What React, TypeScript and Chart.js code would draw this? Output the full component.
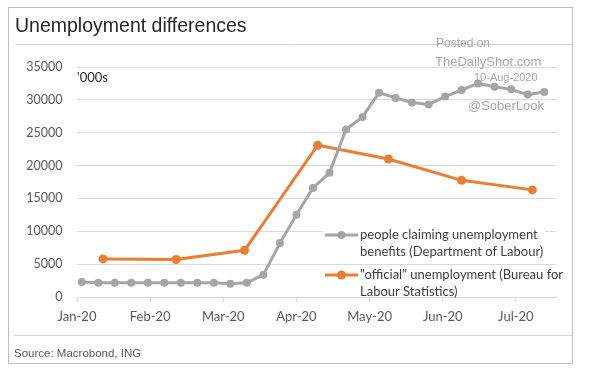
import { useEffect, useRef } from "react";
import { Chart, registerables } from "chart.js";

Chart.register(...registerables);

const TITLE = "Unemployment differences";
const SOURCE = "Source: Macrobond, ING";
const UNIT_LABEL = "'000s";
const WATERMARK = ["Posted on", "TheDailyShot.com", "10-Aug-2020", "@SoberLook"];

const X_TICK_LABELS = ["Jan-20", "Feb-20", "Mar-20", "Apr-20", "May-20", "Jun-20", "Jul-20"];
const X_TICK_STEP_DAYS = 31;
const X_MAX_DAYS = 203;
const Y_MIN = 0;
const Y_MAX = 35000;
const Y_STEP = 5000;

const claimsLabel = ["people claiming unemployment", "benefits (Department of Labour)"];
const claimsDates = [
  "2020-01-03", "2020-01-10", "2020-01-17", "2020-01-24", "2020-01-31",
  "2020-02-07", "2020-02-14", "2020-02-21", "2020-02-28",
  "2020-03-06", "2020-03-13", "2020-03-20", "2020-03-27",
  "2020-04-03", "2020-04-10", "2020-04-17", "2020-04-24",
  "2020-05-01", "2020-05-08", "2020-05-15", "2020-05-22", "2020-05-29",
  "2020-06-05", "2020-06-12", "2020-06-19", "2020-06-26",
  "2020-07-03", "2020-07-10", "2020-07-17",
];
const claimsValues = [
  2300, 2150, 2150, 2150, 2150,
  2150, 2150, 2150, 2150,
  2000, 2150, 3400, 8200,
  12500, 16600, 18900, 25500,
  27400, 31100, 30300, 29600, 29300,
  30500, 31500, 32500, 32000,
  31600, 30800, 31200,
];

const officialLabel = ['"official" unemployment (Bureau for', "Labour Statistics)"];
const officialDates = [
  "2020-01-12", "2020-02-12", "2020-03-12", "2020-04-12", "2020-05-12", "2020-06-12", "2020-07-12",
];
const officialValues = [5800, 5700, 7100, 23100, 21000, 17750, 16300];

const GREY = "#a5a5a5";
const ORANGE = "#ed7d31";
const GRID = "#d9d9d9";
const AXIS_TEXT = "#595959";
const LABEL_FONT = "Lato";
const HEAD_FONT = "'Liberation Sans', Arial, sans-serif";

const dayOf = (s: string) => {
  const [y, m, d] = s.split("-").map(Number);
  return (Date.UTC(y, m - 1, d) - Date.UTC(2020, 0, 1)) / 86400000;
};

const toPoints = (dates: string[], values: number[]) =>
  dates.map((d, i) => ({ x: dayOf(d), y: values[i] }));

const decorPlugin = {
  id: "decor",
  beforeDraw(chart: any) {
    const ctx = chart.ctx as CanvasRenderingContext2D;
    const W = chart.width;
    const H = chart.height;
    ctx.save();
    ctx.fillStyle = "#ffffff";
    ctx.fillRect(0, 0, W, H);
    ctx.strokeStyle = "#bfbfbf";
    ctx.lineWidth = 1;
    ctx.strokeRect(8.5, 7.5, 564, 356);
    ctx.strokeStyle = "#d4d4d4";
    ctx.beginPath();
    ctx.moveTo(15, 44.5);
    ctx.lineTo(572, 44.5);
    ctx.moveTo(14, 335.5);
    ctx.lineTo(572, 335.5);
    ctx.stroke();
    ctx.fillStyle = "#262626";
    ctx.font = `19.5px ${HEAD_FONT}`;
    ctx.textBaseline = "alphabetic";
    ctx.textAlign = "left";
    ctx.fillText(TITLE, 15, 32);
    ctx.fillStyle = "#595959";
    ctx.font = `11.5px ${HEAD_FONT}`;
    ctx.fillText(SOURCE, 14, 357);
    ctx.restore();
  },
  afterDatasetsDraw(chart: any) {
    const ctx = chart.ctx as CanvasRenderingContext2D;
    ctx.save();
    const entries = [
      { color: GREY, lines: claimsLabel, y: 235, box: [323, 225, 222, 34], r: 4 },
      { color: ORANGE, lines: officialLabel, y: 275, box: [323, 266, 249, 30.5], r: 4.5 },
    ];
    for (const e of entries) {
      ctx.fillStyle = "#ffffff";
      ctx.fillRect(e.box[0], e.box[1], e.box[2], e.box[3]);
      ctx.strokeStyle = e.color;
      ctx.lineWidth = 3;
      ctx.beginPath();
      ctx.moveTo(325, e.y);
      ctx.lineTo(358, e.y);
      ctx.stroke();
      ctx.fillStyle = e.color;
      ctx.beginPath();
      ctx.arc(341.5, e.y, e.r, 0, Math.PI * 2);
      ctx.fill();
      ctx.fillStyle = "#404040";
      ctx.font = `13px ${LABEL_FONT}`;
      ctx.textBaseline = "middle";
      ctx.textAlign = "left";
      e.lines.forEach((t, i) => ctx.fillText(t, 360, e.y + i * 16.5));
    }
    ctx.restore();
  },
  afterDraw(chart: any) {
    const ctx = chart.ctx as CanvasRenderingContext2D;
    const area = chart.chartArea;
    ctx.save();
    ctx.fillStyle = "#262626";
    ctx.font = `13px ${LABEL_FONT}`;
    ctx.textBaseline = "middle";
    ctx.textAlign = "left";
    ctx.fillText(UNIT_LABEL, area.left, 77.5);
    ctx.fillStyle = "rgba(150,150,150,0.85)";
    ctx.textBaseline = "alphabetic";
    ctx.font = `12px ${HEAD_FONT}`;
    ctx.fillText(WATERMARK[0], 436, 47);
    ctx.font = `13px ${HEAD_FONT}`;
    ctx.fillText(WATERMARK[1], 435, 65.5);
    ctx.font = `11px ${HEAD_FONT}`;
    ctx.fillText(WATERMARK[2], 474, 81);
    ctx.font = `13px ${HEAD_FONT}`;
    ctx.fillText(WATERMARK[3], 468, 109.5);
    ctx.restore();
  },
};

export default function App() {
  const ref = useRef<HTMLCanvasElement>(null);
  useEffect(() => {
    const canvas = ref.current;
    if (!canvas) return;
    const chart = new Chart(canvas, {
      type: "line",
      data: {
        datasets: [
          {
            label: claimsLabel.join(" "),
            data: toPoints(claimsDates, claimsValues),
            borderColor: GREY,
            backgroundColor: GREY,
            borderWidth: 3,
            pointRadius: 4,
            pointBorderWidth: 0,
            pointBackgroundColor: GREY,
            tension: 0,
          },
          {
            label: officialLabel.join(" "),
            data: toPoints(officialDates, officialValues),
            borderColor: ORANGE,
            backgroundColor: ORANGE,
            borderWidth: 3,
            pointRadius: 4.5,
            pointBorderWidth: 0,
            pointBackgroundColor: ORANGE,
            tension: 0,
          },
        ],
      },
      options: {
        responsive: false,
        animation: false,
        layout: { padding: { left: 0, right: 33, top: 67, bottom: 45 } },
        plugins: {
          legend: { display: false },
          tooltip: { enabled: false },
          title: { display: false },
        },
        scales: {
          x: {
            type: "linear",
            min: 0,
            max: X_MAX_DAYS,
            afterBuildTicks: (scale: any) => {
              scale.ticks = X_TICK_LABELS.map((_, i) => ({ value: i * X_TICK_STEP_DAYS }));
            },
            afterFit: (scale: any) => {
              scale.height = 30;
            },
            ticks: {
              autoSkip: false,
              maxRotation: 0,
              padding: 7,
              color: AXIS_TEXT,
              font: { family: LABEL_FONT, size: 13 },
              callback: (_v: any, i: number) => X_TICK_LABELS[i],
            },
            grid: {
              drawOnChartArea: false,
              drawTicks: true,
              tickLength: 5,
              color: GRID,
            },
            border: { display: true, color: GRID, width: 1 },
          },
          y: {
            min: Y_MIN,
            max: Y_MAX,
            afterFit: (scale: any) => {
              scale.width = 77;
            },
            ticks: {
              stepSize: Y_STEP,
              padding: 14.5,
              color: AXIS_TEXT,
              font: { family: LABEL_FONT, size: 12.5 },
              callback: (v: any) => String(v),
            },
            grid: { color: GRID, drawTicks: false, lineWidth: 1 },
            border: { display: false },
          },
        },
      },
      plugins: [decorPlugin],
    } as any);
    return () => chart.destroy();
  }, []);
  return (
    <div style={{ position: "absolute", left: 0, top: 0, width: 589, height: 372, background: "#fff" }}>
      <canvas ref={ref} width={589} height={372} style={{ display: "block", width: 589, height: 372 }} />
    </div>
  );
}
